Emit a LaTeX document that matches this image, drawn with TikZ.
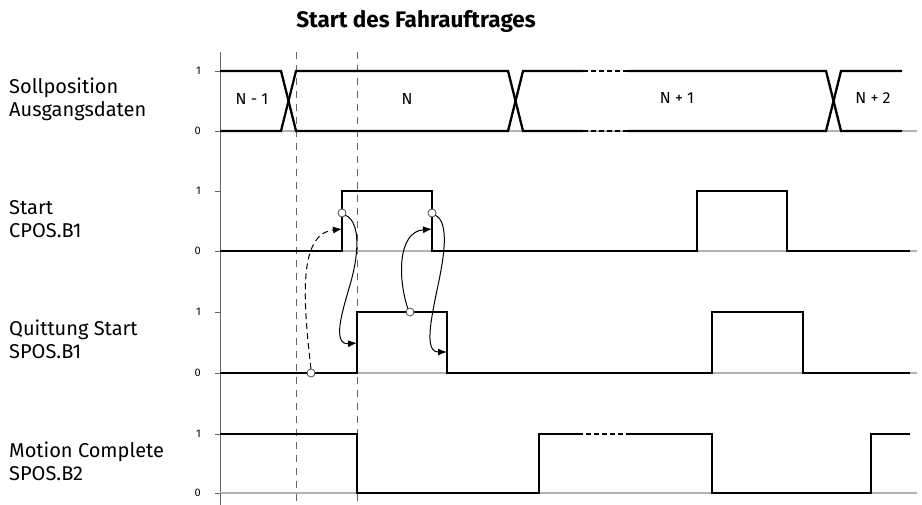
\documentclass[tikz,border=0pt]{standalone}
\usepackage{fontspec}
\setmainfont{Fira Sans}
\usetikzlibrary{arrows.meta}
\begin{document}
\begin{tikzpicture}[x=1pt,y=-1pt,
  sig/.style={line width=2.3pt,line join=miter,line cap=butt},
  sigdash/.style={line width=2.3pt,dash pattern=on 5pt off 3pt},
  base/.style={line width=1.4pt,draw=black!30},
  axis/.style={line width=0.8pt,draw=black!60},
  marker/.style={line width=0.8pt,draw=black!60,dash pattern=on 7pt off 6pt},
  lvl/.style={font=\fontsize{11}{13}\selectfont,anchor=east,inner sep=0pt},
  rowlabel/.style={font=\fontsize{20}{23}\selectfont,anchor=base west,inner sep=0pt},
  buslabel/.style={font=\fontsize{16}{18}\selectfont,inner sep=0pt},
  dot/.style={circle,draw=black!70,fill=white,line width=0.8pt,minimum size=8pt,inner sep=0pt},
  link/.style={line width=1pt,-{Latex[length=9pt,width=7pt]}},
  linkdash/.style={link,dash pattern=on 6pt off 4pt}
]
\useasboundingbox (0,0) rectangle (922,505);

% title
\node[font=\fontsize{22.5}{26}\selectfont\bfseries,anchor=base] (title) at (416,28) {Start des Fahrauftrages};

% row labels
\node[rowlabel] (l1a) at (9,94) {Sollposition};
\node[rowlabel] (l1b) at (9,117) {Ausgangsdaten};
\node[rowlabel] (l2a) at (9,215) {Start};
\node[rowlabel] (l2b) at (9,238) {CPOS.B1};
\node[rowlabel] (l3a) at (9,336) {Quittung Start};
\node[rowlabel] (l3b) at (9,359) {SPOS.B1};
\node[rowlabel] (l4a) at (9,457) {Motion Complete};
\node[rowlabel] (l4b) at (9,480) {SPOS.B2};

% time axis and markers
\draw[axis] (220,52) -- (220,505);
\draw[marker] (296,52) -- (296,505);
\draw[marker] (357,52) -- (357,505);

% levels, ticks and baselines of the four rows
\foreach \hi/\lo in {71/131,191/251,312/373,434/493}{
  \draw[base] (220,\lo) -- (917,\lo);
  \draw[axis] (215,\hi) -- (221,\hi);
  \draw[axis] (215,\lo) -- (221,\lo);
  \node[lvl] at (201,\hi) {1};
  \node[lvl] at (201,\lo) {0};
}

% row 1: position data bus
\draw[sig] (220,71) -- (281,71) -- (296,131) -- (508,131) -- (523,71) -- (583,71);
\draw[sig] (220,131) -- (281,131) -- (296,71) -- (508,71) -- (523,131) -- (583,131);
\draw[sigdash] (583,71) -- (628,71);
\draw[sigdash] (583,131) -- (628,131);
\draw[sig] (628,71) -- (826,71) -- (841,131) -- (902,131);
\draw[sig] (628,131) -- (826,131) -- (841,71) -- (902,71);
\node[buslabel] (n0) at (252,99) {N - 1};
\node[buslabel] (n1) at (407,99) {N};
\node[buslabel] (n2) at (677,98) {N + 1};
\node[buslabel] (n3) at (873,98) {N + 2};

% row 2: Start
\draw[sig] (220,251) -- (342,251) -- (342,191) -- (432,191) -- (432,251)
  -- (697,251) -- (697,191) -- (787,191) -- (787,251) -- (910,251);

% row 3: Quittung Start
\draw[sig] (220,373) -- (357,373) -- (357,312) -- (447,312) -- (447,373)
  -- (712,373) -- (712,312) -- (803,312) -- (803,373) -- (910,373);

% row 4: Motion Complete
\draw[sig] (220,434) -- (357,434) -- (357,493) -- (539,493) -- (539,434) -- (578,434);
\draw[sigdash] (578,434) -- (627,434);
\draw[sig] (627,434) -- (712,434) -- (712,493) -- (871,493) -- (871,434) -- (910,434);

% handshake markers and targets
\coordinate (startRise) at (342,229);
\coordinate (ackRise) at (357,343);
\coordinate (startFall) at (432,229);
\coordinate (ackFall) at (447,352);

% causal links
\draw[linkdash] (311,369) .. controls (303,300) and (298,234) .. (startRise);
\draw[link] (345,215) .. controls (362,222) and (358,258) .. (350,285)
  .. controls (342,312) and (332,345) .. (ackRise);
\draw[link] (408,309) .. controls (398,280) and (397,232) .. (startFall);
\draw[link] (435,215) .. controls (450,222) and (444,258) .. (437,290)
  .. controls (431,320) and (424,352) .. (ackFall);

\node[dot] (cAck0) at (311,373) {};
\node[dot] (cStartRise) at (342,213) {};
\node[dot] (cStartFall) at (432,213) {};
\node[dot] (cAckHigh) at (410,312) {};
\end{tikzpicture}
\end{document}
